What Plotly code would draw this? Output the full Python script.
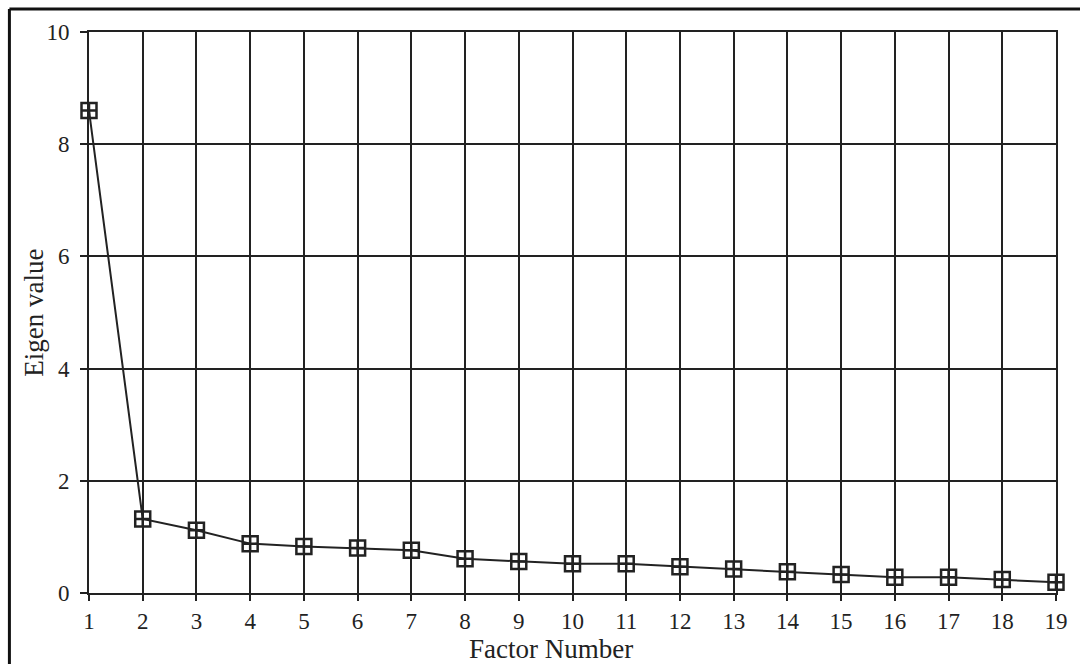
import plotly.graph_objects as go

factors = list(range(1, 20))
eigen_values = [8.6, 1.32, 1.12, 0.88, 0.83, 0.80, 0.76, 0.61, 0.56,
                0.52, 0.52, 0.47, 0.43, 0.38, 0.33, 0.28, 0.28, 0.24, 0.19]
y_ticks = [0, 2, 4, 6, 8, 10]
x_title = "Factor Number"
y_title = "Eigen value"

ink = "#222222"
font_family = "Liberation Serif, Times New Roman, serif"

fig = go.Figure()
fig.add_trace(go.Scatter(
    x=factors, y=eigen_values, mode="lines+markers",
    line=dict(color=ink, width=2),
    marker=dict(symbol="square-cross-open", size=15, color=ink,
                line=dict(color=ink, width=2.5)),
    showlegend=False, cliponaxis=False,
))

L, R, T, B = 89, 19, 32, 71
W, H = 1080, 664
pw, ph = W - L - R, H - T - B

fig.update_layout(
    width=W, height=H,
    margin=dict(l=L, r=R, t=T, b=B),
    paper_bgcolor="white", plot_bgcolor="white",
    font=dict(family=font_family, color=ink, size=22),
    xaxis=dict(
        range=[1, 19], tickmode="array", tickvals=factors,
        showgrid=True, gridcolor=ink, gridwidth=2,
        showline=True, linecolor=ink, linewidth=2, mirror=True,
        ticks="outside", ticklen=6, tickwidth=2, tickcolor=ink,
        zeroline=False, tickfont=dict(size=23, family=font_family, color=ink),
    ),
    yaxis=dict(
        range=[0, 10], tickmode="array", tickvals=y_ticks,
        showgrid=True, gridcolor=ink, gridwidth=2,
        showline=True, linecolor=ink, linewidth=2, mirror=True,
        ticks="outside", ticklen=7, tickwidth=2, tickcolor=ink,
        zeroline=False, ticklabelstandoff=6,
        tickfont=dict(size=23, family=font_family, color=ink),
    ),
    annotations=[
        dict(text=x_title, xref="paper", yref="paper",
             x=(553 - L) / pw, y=(H - B - 649) / ph,
             xanchor="center", yanchor="middle", showarrow=False,
             font=dict(size=27, family=font_family, color=ink)),
        dict(text=y_title, xref="paper", yref="paper",
             x=(33 - L) / pw, y=0.5, textangle=-90,
             xanchor="center", yanchor="middle", showarrow=False,
             font=dict(size=27, family=font_family, color=ink)),
    ],
    shapes=[
        dict(type="line", xref="paper", yref="paper",
             x0=(9 - L) / pw, x1=(9 - L) / pw,
             y0=(H - B - 9) / ph, y1=(H - B - 700) / ph,
             line=dict(color="#111111", width=3)),
        dict(type="line", xref="paper", yref="paper",
             x0=(9 - L) / pw, x1=(1100 - L) / pw,
             y0=(H - B - 9) / ph, y1=(H - B - 9) / ph,
             line=dict(color="#111111", width=3)),
    ],
)

fig.write_html("out.html",
               config={"displayModeBar": False},
               post_script="document.body.style.margin='0';document.body.style.overflow='hidden';")
